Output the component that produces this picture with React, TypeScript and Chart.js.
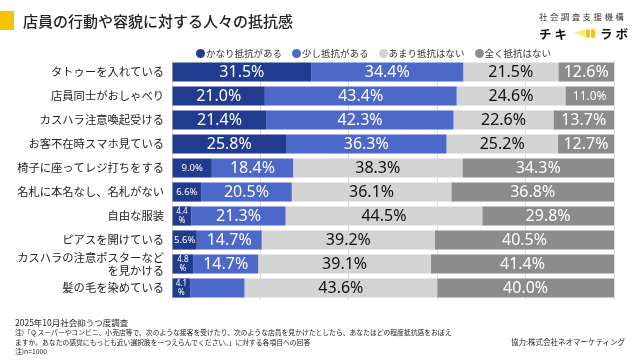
import React, { useEffect, useRef } from "react";
import { Chart, registerables } from "chart.js";

Chart.register(...registerables);

const categories: (string | string[])[] = [
  "タトゥーを入れている",
  "店員同士がおしゃべり",
  "カスハラ注意喚起受ける",
  "お客不在時スマホ見ている",
  "椅子に座ってレジ打ちをする",
  "名札に本名なし、名札がない",
  "自由な服装",
  "ピアスを開けている",
  ["カスハラの注意ポスターなど", "を見かける"],
  "髪の毛を染めている",
];
const seriesNames = ["かなり抵抗がある", "少し抵抗がある", "あまり抵抗はない", "全く抵抗はない"];
const veryResistant = [31.5, 21.0, 21.4, 25.8, 9.0, 6.6, 4.4, 5.6, 4.8, 4.1];
const somewhatResistant = [34.4, 43.4, 42.3, 36.3, 18.4, 20.5, 21.3, 14.7, 14.7, 12.3];
const notVeryResistant = [21.5, 24.6, 22.6, 25.2, 38.3, 36.1, 44.5, 39.2, 39.1, 43.6];
const notAtAllResistant = [12.6, 11.0, 13.7, 12.7, 34.3, 36.8, 29.8, 40.5, 41.4, 40.0];
const seriesColors = ["#213c8f", "#4c69c9", "#d3d3d3", "#8c8c8c"];
const labelColors = ["#ffffff", "#ffffff", "#111111", "#ffffff"];
// [datasetIndex, categoryIndex] whose value label is not shown in the original
const hiddenLabels: [number, number][] = [[1, 9]];

const title = "店員の行動や容貌に対する人々の抵抗感";
const footerLines = [
  "2025年10月社会抑うつ度調査",
  "注)「Q スーパーやコンビニ、小売店等で、次のような接客を受けたり、次のような店員を見かけたとしたら、あなたはどの程度抵抗感をおぼえ",
  "ますか。あなたの感覚にもっとも近い選択肢を一つえらんでください。」に対する各項目への回答",
  "注)n=1000",
];
const credit = "協力:株式会社ネオマーケティング";

const JP = '"Noto Sans CJK JP", "Noto Sans", sans-serif';
const NUM = '"Noto Sans", "Noto Sans CJK JP", sans-serif';

const valueLabelPlugin = {
  id: "valueLabels",
  afterDatasetsDraw(chart: any) {
    const ctx = chart.ctx;
    ctx.save();
    ctx.textAlign = "center";
    ctx.textBaseline = "middle";
    chart.data.datasets.forEach((ds: any, di: number) => {
      const meta = chart.getDatasetMeta(di);
      meta.data.forEach((el: any, i: number) => {
        if (hiddenLabels.some(([a, b]) => a === di && b === i)) return;
        const v = ds.data[i] as number;
        const { x, base, y } = el.getProps(["x", "base", "y"], true);
        const cx = (x + base) / 2;
        ctx.fillStyle = labelColors[di];
        const txt = v.toFixed(1);
        if (v < 5) {
          ctx.font = `8px ${NUM}`;
          ctx.fillText(txt, cx, y - 4.5);
          ctx.fillText("%", cx, y + 5);
        } else if (v < 10) {
          ctx.font = `9.5px ${NUM}`;
          ctx.fillText(txt + "%", cx, y + 0.5);
        } else if (v < 12) {
          ctx.font = `12px ${NUM}`;
          ctx.fillText(txt + "%", cx, y + 0.5);
        } else {
          ctx.font = `16px ${NUM}`;
          ctx.fillText(txt + "%", cx, y + 0.5);
        }
      });
    });
    ctx.restore();
  },
};

export default function App() {
  const canvasRef = useRef<HTMLCanvasElement | null>(null);

  useEffect(() => {
    document.body.style.margin = "0";
    const canvas = canvasRef.current;
    if (!canvas) return;
    const seriesValues = [veryResistant, somewhatResistant, notVeryResistant, notAtAllResistant];
    const chart = new Chart(canvas, {
      type: "bar",
      data: {
        labels: categories as any,
        datasets: seriesValues.map((vals, i) => ({
          label: seriesNames[i],
          data: vals,
          backgroundColor: seriesColors[i],
          borderWidth: 0,
          barPercentage: 0.8,
          categoryPercentage: 1,
        })),
      },
      options: {
        indexAxis: "y",
        responsive: false,
        animation: false,
        devicePixelRatio: 1,
        layout: { padding: { left: 0, right: 26, top: 60, bottom: 60 } },
        plugins: {
          legend: { display: false },
          tooltip: { enabled: false },
        },
        scales: {
          x: {
            stacked: true,
            min: 0,
            max: 100,
            ticks: { display: false, stepSize: 20 },
            grid: { color: "#dcdcdc", drawTicks: false, lineWidth: 1 },
            border: { display: false },
            afterFit: (s: any) => {
              s.height = 0;
            },
          },
          y: {
            stacked: true,
            grid: { display: false, drawTicks: false },
            border: { display: false },
            ticks: {
              color: "#222",
              padding: 8,
              autoSkip: false,
              font: { family: JP, size: 11.3, lineHeight: 1.2 },
            },
            afterFit: (s: any) => {
              s.width = 172;
            },
          },
        },
      },
      plugins: [valueLabelPlugin],
    });
    return () => chart.destroy();
  }, []);

  return (
    <div
      style={{
        position: "fixed",
        left: 0,
        top: 0,
        width: 640,
        height: 360,
        background: "#fff",
        overflow: "hidden",
        fontFamily: JP,
        color: "#222",
      }}
    >
      <canvas ref={canvasRef} width={640} height={360} style={{ position: "absolute", left: 0, top: 0 }} />
      {/* title */}
      <div style={{ position: "absolute", left: 0, top: 11, width: 14, height: 19, background: "#f5c400" }} />
      <div style={{ position: "absolute", left: 23, top: 10, fontSize: 15, lineHeight: "21px", fontWeight: 500, color: "#222", whiteSpace: "nowrap" }}>
        {title}
      </div>
      {/* logo */}
      <div style={{ position: "absolute", left: 539, top: 10, fontSize: 8.5, lineHeight: "12px", letterSpacing: 2.4, color: "#333", whiteSpace: "nowrap" }}>
        社会調査支援機構
      </div>
      <div style={{ position: "absolute", left: 539, top: 24, height: 18, display: "flex", alignItems: "center", whiteSpace: "nowrap" }}>
        <span style={{ fontSize: 12.5, fontWeight: 700, letterSpacing: 3, color: "#111" }}>チキ</span>
        <span style={{ display: "inline-flex", alignItems: "center", marginLeft: 4, marginRight: 5 }}>
          <span style={{ display: "inline-block", width: 0, height: 0, borderTop: "4px solid transparent", borderBottom: "4px solid transparent", borderRight: "11px solid #f8e58a", marginRight: 1 }} />
          <span style={{ display: "inline-block", width: 4, height: 9, borderRadius: 2, background: "#f5c400", marginRight: 1 }} />
          <span style={{ display: "inline-block", width: 4, height: 9, borderRadius: 2, background: "#f5c400" }} />
        </span>
        <span style={{ fontSize: 12.5, fontWeight: 700, letterSpacing: 3, color: "#111" }}>ラボ</span>
      </div>
      {/* legend */}
      <div style={{ position: "absolute", left: 196, top: 46, display: "flex", alignItems: "center", fontSize: 9.5, lineHeight: "14px", color: "#333", whiteSpace: "nowrap" }}>
        {seriesNames.map((n, i) => (
          <span key={n} style={{ display: "inline-flex", alignItems: "center", marginRight: 10 }}>
            <span style={{ display: "inline-block", width: 9, height: 9, borderRadius: "50%", background: seriesColors[i], marginRight: 1 }} />
            {n}
          </span>
        ))}
      </div>
      {/* footer */}
      <div style={{ position: "absolute", left: 15, top: 316, fontSize: 8.5, lineHeight: "12px", color: "#222", whiteSpace: "nowrap" }}>
        {footerLines[0]}
      </div>
      {footerLines.slice(1).map((t, i) => (
        <div key={i} style={{ position: "absolute", left: 15, top: 328 + i * 9.5, fontSize: 6.8, lineHeight: "9px", color: "#222", whiteSpace: "nowrap" }}>
          {t}
        </div>
      ))}
      <div style={{ position: "absolute", right: 15, top: 337, fontSize: 7.5, lineHeight: "10px", color: "#222", whiteSpace: "nowrap" }}>
        {credit}
      </div>
    </div>
  );
}
